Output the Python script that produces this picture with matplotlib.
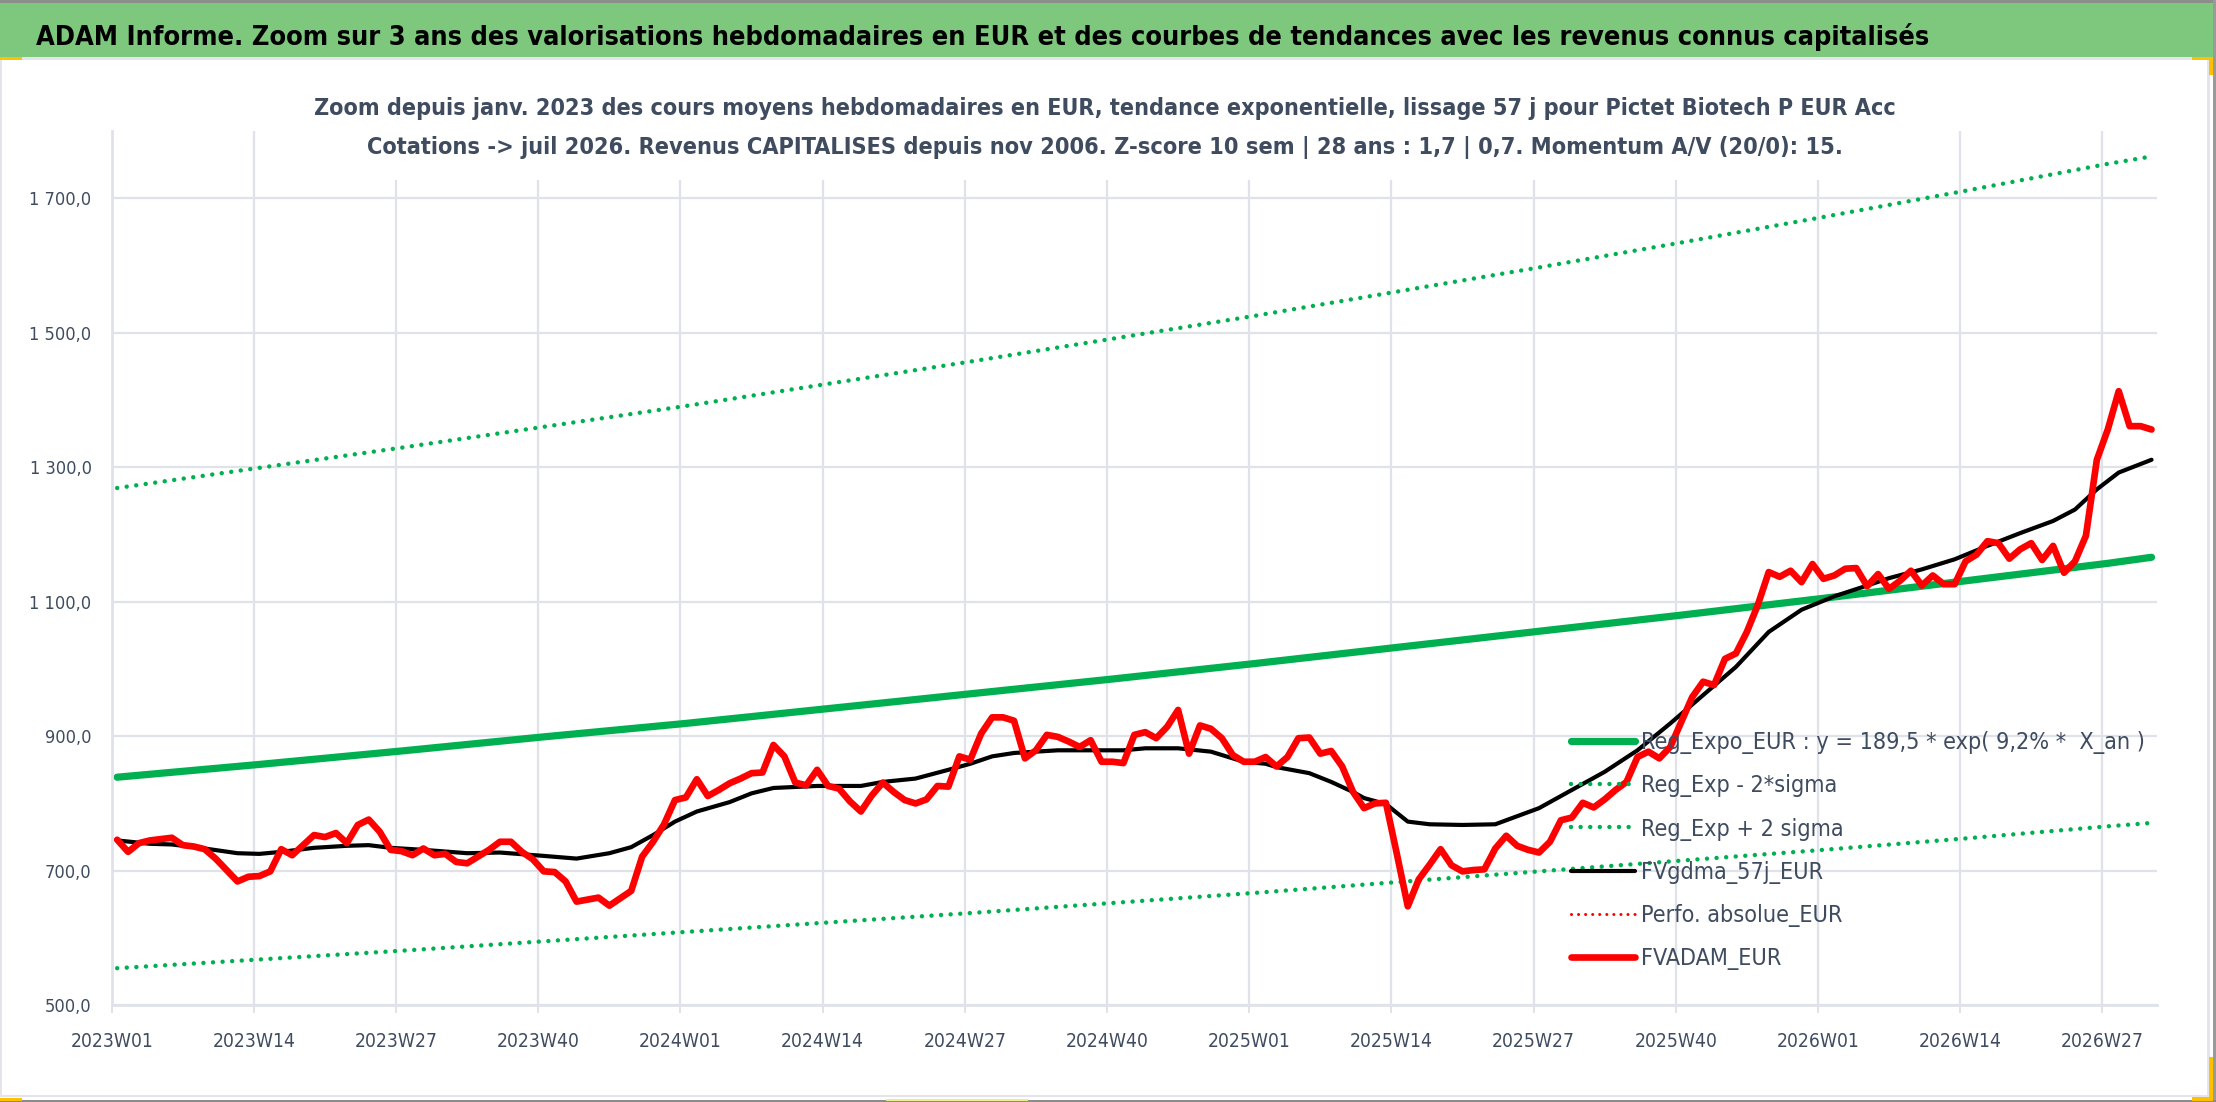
"""ADAM weekly valuation chart for Pictet Biotech P EUR Acc (3-year zoom).

Weekly average price, 57-day smoothing and exponential trend with +/- 2 sigma
bands, drawn on an Excel-like category axis of ISO weeks.
"""

import matplotlib

matplotlib.use("Agg")
import matplotlib.pyplot as plt
import numpy as np
from matplotlib import font_manager as fm
from matplotlib.patches import Rectangle
from matplotlib.ticker import FixedLocator, FuncFormatter

FIG_W, FIG_H = 2216, 1102

# ---------------------------------------------------------------- data
N_WEEKS = 187  # 2023W01 .. 2026W31
TICK_WEEKS = [0, 13, 26, 39, 52, 65, 78, 91, 104, 117, 130, 143, 156, 169, 182]
WEEK_LABELS = [
    "2023W01", "2023W14", "2023W27", "2023W40",
    "2024W01", "2024W14", "2024W27", "2024W40",
    "2025W01", "2025W14", "2025W27", "2025W40",
    "2026W01", "2026W14", "2026W27",
]

# FVADAM_EUR, weekly average price (one value per week)
FVADAM = [
    746, 728, 741, 745, 747, 749, 738, 736, 732, 718,
    701, 684, 691, 692, 699, 732, 723, 738, 753, 750,
    756, 741, 768, 776, 758, 731, 729, 723, 733, 723,
    725, 713, 711, 721, 731, 743, 743, 728, 717, 699,
    698, 684, 654, 657, 660, 648, 659, 670, 721, 743,
    769, 805, 809, 836, 811, 820, 830, 837, 845, 846,
    887, 870, 831, 827, 850, 826, 822, 803, 788, 812,
    831, 817, 805, 800, 806, 826, 825, 870, 865, 904,
    928, 928, 923, 867, 879, 902, 899, 892, 884, 894,
    862, 862, 860, 902, 906, 897, 914, 939, 874, 916,
    911, 897, 872, 862, 862, 869, 855, 869, 897, 898,
    874, 878, 855, 817, 793, 800, 801, 725, 647, 687,
    709, 732, 708, 699, 701, 702, 733, 752, 737, 731,
    727, 743, 775, 779, 801, 794, 806, 820, 832, 869,
    877, 867, 884, 921, 958, 981, 976, 1015, 1023, 1055,
    1095, 1144, 1137, 1146, 1129, 1156, 1134, 1139, 1149, 1150,
    1123, 1141, 1119, 1131, 1146, 1124, 1139, 1126, 1126, 1160,
    1170, 1190, 1187, 1164, 1178, 1187, 1162, 1183, 1143, 1160,
    1198, 1311, 1356, 1413, 1361, 1361, 1356,
]

# FVgdma_57j_EUR, smoothed curve read at these weeks
MA_WEEKS = [
    0, 3, 5, 8, 11, 13, 15, 18, 21, 23, 25, 28, 32, 35, 39, 42, 45, 47, 49,
    51, 53, 56, 58, 60, 64, 68, 70, 73, 76, 78, 80, 82, 86, 92, 94, 97, 100,
    103, 105, 106, 109, 111, 113, 114, 116, 117, 118, 120, 123, 126, 130,
    133, 136, 139, 142, 145, 148, 151, 154, 157, 160, 162, 165, 168, 171,
    174, 177, 179, 181, 183, 186,
]
MA_VALUES = [
    745, 740, 739, 733, 726, 725, 728, 734, 737, 738, 734, 731, 726, 727,
    722, 718, 726, 735, 753, 773, 788, 802, 815, 823, 826, 826, 832, 837,
    850, 859, 870, 875, 879, 879, 882, 882, 877, 862, 859, 854, 845, 832,
    817, 808, 799, 786, 773, 769, 768, 769, 793, 820, 847, 879, 919, 961,
    1003, 1055, 1088, 1108, 1124, 1135, 1148, 1163, 1183, 1202, 1220, 1237,
    1267, 1292, 1311,
]

# exponential trend and its +/- 2 sigma band, read at these weeks
TREND_WEEKS = [0, 13, 26, 39, 52, 65, 78, 91, 104, 117, 130, 143, 156, 169, 182, 186]
REG_EXPO = [839, 858, 878, 899, 919, 941, 963, 985, 1008, 1032, 1056, 1080, 1105, 1131, 1157, 1166]
REG_UPPER = [1269, 1299, 1329, 1360, 1391, 1424, 1457, 1491, 1525, 1561, 1597, 1634, 1672, 1711, 1751, 1762]
REG_LOWER = [555, 568, 581, 595, 609, 623, 637, 652, 667, 683, 699, 715, 731, 748, 766, 771]

Y_TICKS = [500, 700, 900, 1100, 1300, 1500, 1700]

BANNER = ("ADAM Informe. Zoom sur 3 ans des valorisations hebdomadaires en EUR "
          "et des courbes de tendances avec les revenus connus capitalisés")
SUBTITLE_1 = ("Zoom depuis janv. 2023 des cours moyens hebdomadaires en EUR, "
              "tendance exponentielle, lissage 57 j pour Pictet Biotech P EUR Acc")
SUBTITLE_2 = ("Cotations -> juil 2026. Revenus CAPITALISES depuis nov 2006. "
              "Z-score 10 sem | 28 ans : 1,7 | 0,7. Momentum A/V (20/0): 15.")
LEGEND_LABELS = [
    "Reg_Expo_EUR : y = 189,5 * exp( 9,2% *  X_an )",
    "Reg_Exp - 2*sigma",
    "Reg_Exp + 2 sigma",
    "FVgdma_57j_EUR",
    "Perfo. absolue_EUR",
    "FVADAM_EUR",
]

GREEN = "#00B050"
RED = "#FF0000"
TEXT = "#3F4C60"
GRID = "#DFE2E8"


def pick_font():
    entries = fm.fontManager.ttflist
    names = {e.name for e in entries}
    if "Liberation Sans Narrow" in names:
        return "Liberation Sans Narrow", "normal"
    for fam in ("Noto Sans", "DejaVu Sans", "Open Sans", "Roboto"):
        if any(e.name == fam and e.stretch == "condensed" for e in entries):
            return fam, "condensed"
    return "Liberation Sans", "normal"


FAMILY, STRETCH = pick_font()


def font(size, weight="normal"):
    return fm.FontProperties(family=FAMILY, stretch=STRETCH, weight=weight, size=size)


def fitted_size(renderer, text, target_px, weight="normal"):
    w, _, _ = renderer.get_text_width_height_descent(text, font(20, weight), ismath=False)
    return 20 * target_px / w


def fx(x):
    return x / FIG_W


def fy(y):
    return 1 - y / FIG_H


def add_rect(fig, x0, y0, x1, y1, color):
    fig.add_artist(
        Rectangle((fx(x0), fy(y1)), (x1 - x0) / FIG_W, (y1 - y0) / FIG_H,
                  transform=fig.transFigure, facecolor=color, edgecolor="none",
                  zorder=1)
    )


def euro_number(v, _pos=None):
    return f"{v:,.1f}".replace(",", " ").replace(".", ",")


def main():
    fig = plt.figure(figsize=(FIG_W / 100, FIG_H / 100), dpi=100)
    renderer = fig.canvas.get_renderer()

    # plot area in pixels (Excel layout)
    left, right, top, bottom = 111.7, 2157.0, 130.9, 1005.2
    ax = fig.add_axes([fx(left), fy(bottom), (right - left) / FIG_W, (bottom - top) / FIG_H])

    weeks = np.arange(N_WEEKS) + 0.5
    trend_x = np.array(TREND_WEEKS) + 0.5
    ma_x = np.array(MA_WEEKS) + 0.5

    round_kw = dict(solid_capstyle="round", solid_joinstyle="round")
    dot_kw = dict(dash_capstyle="round")
    h_expo, = ax.plot(trend_x, REG_EXPO, color=GREEN, lw=5.2, zorder=2, **round_kw)
    h_low, = ax.plot(trend_x, REG_LOWER, color=GREEN, lw=3.2,
                     linestyle=(0, (0.01, 2.15)), zorder=2.1, **dot_kw)
    h_up, = ax.plot(trend_x, REG_UPPER, color=GREEN, lw=3.2,
                    linestyle=(0, (0.01, 2.15)), zorder=2.1, **dot_kw)
    h_ma, = ax.plot(ma_x, MA_VALUES, color="black", lw=3.0, zorder=3, **round_kw)
    h_perf, = ax.plot(weeks, FVADAM, color=RED, lw=2.2,
                      linestyle=(0, (0.01, 2.3)), zorder=3.5, **dot_kw)
    h_adam, = ax.plot(weeks, FVADAM, color=RED, lw=4.8, zorder=4, **round_kw)

    ax.set_xlim(0, N_WEEKS)
    ax.set_ylim(500, 1800)
    ax.xaxis.set_major_locator(FixedLocator(TICK_WEEKS))
    ax.set_xticklabels(WEEK_LABELS)
    ax.yaxis.set_major_locator(FixedLocator(Y_TICKS))
    ax.yaxis.set_major_formatter(FuncFormatter(euro_number))
    ax.grid(True, color=GRID, linewidth=1.6, zorder=0)
    ax.set_axisbelow(True)
    for side in ("top", "right"):
        ax.spines[side].set_visible(False)
    for side in ("left", "bottom"):
        ax.spines[side].set_color(GRID)
        ax.spines[side].set_linewidth(2.0)

    x_size = fitted_size(renderer, "2026W27", 83)
    y_size = fitted_size(renderer, "1 700,0", 62)
    ax.tick_params(axis="x", length=5.8, width=1.4, color=GRID, pad=13.5,
                   labelcolor=TEXT)
    ax.tick_params(axis="y", length=0, pad=14.5, labelcolor=TEXT)
    for lab in ax.get_xticklabels():
        lab.set_fontproperties(font(x_size))
    for lab in ax.get_yticklabels():
        lab.set_fontproperties(font(y_size))

    # legend, no frame, lines stay visible behind it
    leg_size = fitted_size(renderer, LEGEND_LABELS[0], 505)
    leg_px = leg_size * 100 / 72
    _, lp_h, _ = renderer.get_text_width_height_descent("lp", font(leg_size), ismath=False)
    row_pitch = 43.3
    ax.legend(
        [h_expo, h_low, h_up, h_ma, h_perf, h_adam], LEGEND_LABELS,
        loc="upper left", bbox_to_anchor=(fx(1571), fy(742.5 - lp_h / 2)),
        bbox_transform=fig.transFigure, frameon=False, prop=font(leg_size),
        labelcolor=TEXT, borderpad=0, borderaxespad=0,
        handlelength=64 / leg_px, handletextpad=6 / leg_px,
        labelspacing=(row_pitch - lp_h) / leg_px,
    )

    # chart frame, banner and selection marks
    add_rect(fig, 0, 0, FIG_W, 3, "#8A8E8A")
    add_rect(fig, 0, 3, 2213, 57, "#7EC87E")
    add_rect(fig, 0, 57, 2210, 60, "#E3E5EA")
    add_rect(fig, 0, 60, 2, 1097, "#E3E5EA")
    add_rect(fig, 2207, 60, 2210, 1097, "#E3E5EA")
    add_rect(fig, 0, 1095, 2210, 1097, "#E3E5EA")
    add_rect(fig, 2213, 0, FIG_W, FIG_H, "#9A9A9A")
    add_rect(fig, 0, 1100, FIG_W, FIG_H, "#8B8B8B")
    for x0, y0, x1, y1 in [(0, 57, 22, 60), (2192, 57, 2213, 60), (2209, 57, 2213, 75),
                           (2209, 1057, 2213, 1100), (2192, 1097, 2213, 1101),
                           (0, 1098, 22, 1101)]:
        add_rect(fig, x0, y0, x1, y1, "#FFC000")
    add_rect(fig, 886, 1099, 1028, 1101, "#F2E98A")
    # title box of the chart hides the top of the gridlines
    add_rect(fig, 360, 124, 1852, 180, "white")

    banner_size = fitted_size(renderer, BANNER, 1893, weight="bold")
    fig.text(fx(36), fy(45), BANNER, ha="left", va="baseline", color="black",
             fontproperties=font(banner_size, "bold"), zorder=3)
    sub1_size = fitted_size(renderer, SUBTITLE_1, 1581, weight="bold")
    fig.text(fx(1104.5), fy(115), SUBTITLE_1, ha="center", va="baseline",
             color=TEXT, fontproperties=font(sub1_size, "bold"), zorder=3)
    sub2_size = fitted_size(renderer, SUBTITLE_2, 1478, weight="bold")
    fig.text(fx(1105), fy(154), SUBTITLE_2, ha="center", va="baseline",
             color=TEXT, fontproperties=font(sub2_size, "bold"), zorder=3)

    fig.savefig("out.png", dpi=100, facecolor="white")


if __name__ == "__main__":
    main()
